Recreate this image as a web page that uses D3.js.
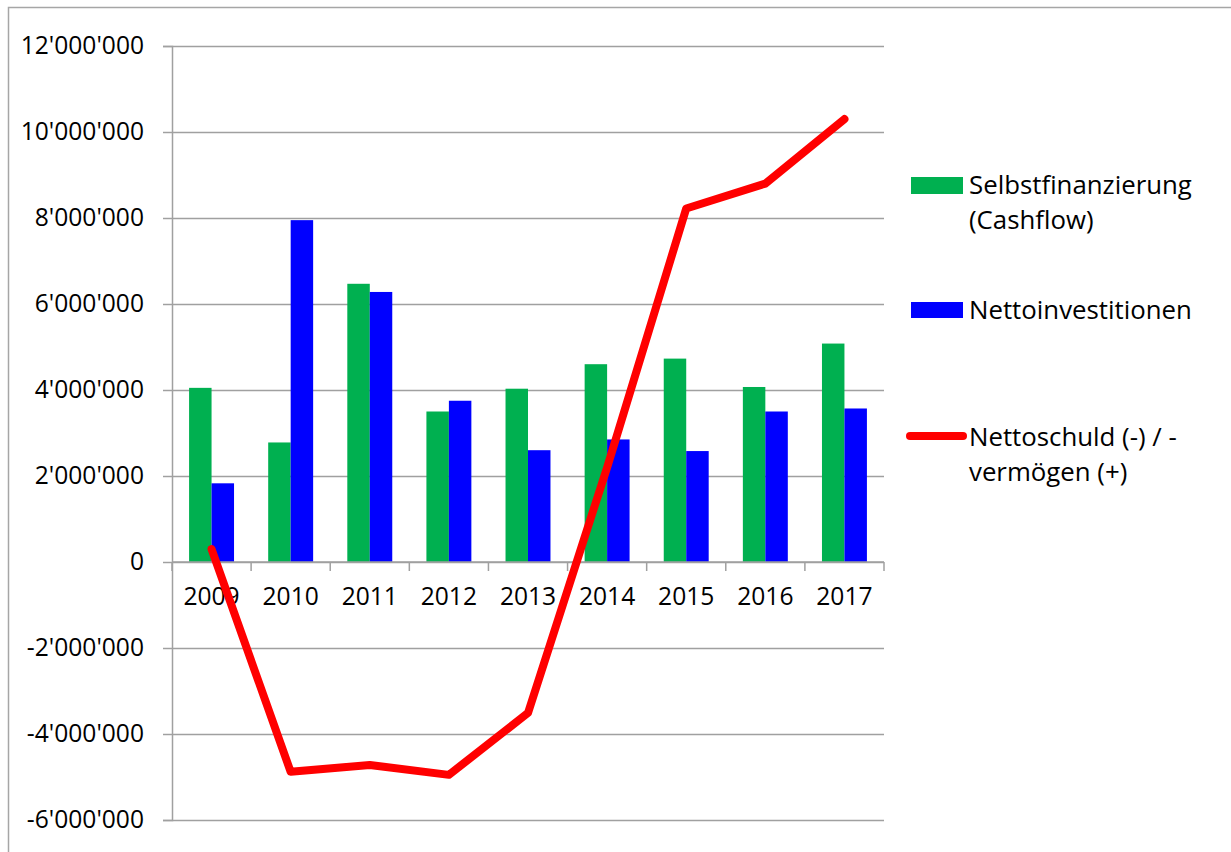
<!DOCTYPE html>
<html>
<head>
<meta charset="utf-8">
<script src="https://cdn.jsdelivr.net/npm/d3@7"></script>
<style>
  body { margin: 0; background: #fff; }
  svg { display: block; font-family: "Open Sans", sans-serif; }
</style>
</head>
<body>
<div id="chart"></div>
<script>
const years = ['2009', '2010', '2011', '2012', '2013', '2014', '2015', '2016', '2017'];
const cashflow = [4050000, 2780000, 6470000, 3500000, 4030000, 4600000, 4730000, 4070000, 5080000];
const investitionen = [1830000, 7950000, 6280000, 3750000, 2600000, 2850000, 2580000, 3500000, 3570000];
const nettoschuld = [300000, -4880000, -4720000, -4950000, -3510000, 2200000, 8220000, 8800000, 10300000];
const yTicks = [-6000000, -4000000, -2000000, 0, 2000000, 4000000, 6000000, 8000000, 10000000, 12000000];

const width = 1231, height = 852;
const margin = { top: 46, right: 347, bottom: 32, left: 172 };

const svg = d3.select('#chart').append('svg')
    .attr('width', width)
    .attr('height', height);

// outer chart frame (right / bottom edges run off the picture)
svg.append('rect')
    .attr('x', 8.5).attr('y', 7.5)
    .attr('width', width + 10).attr('height', height + 10)
    .attr('fill', 'none').attr('stroke', '#a6a6a6').attr('stroke-width', 1.5);

const y = d3.scaleLinear()
    .domain([-6000000, 12000000])
    .range([height - margin.bottom, margin.top]);

const x0 = d3.scaleBand()
    .domain(years)
    .range([margin.left, width - margin.right])
    .padding(0);

const x1 = d3.scaleBand()
    .domain(['cash', 'inv'])
    .range([0, x0.bandwidth()])
    .paddingInner(0)
    .paddingOuter(0.76);

const locale = d3.formatLocale({ decimal: '.', thousands: "'", grouping: [3], currency: ['', ''], minus: '-' });
const fmt = locale.format(',');

// gridlines + y axis
svg.append('g')
    .attr('transform', `translate(${margin.left},0)`)
    .call(d3.axisLeft(y).tickValues(yTicks).tickSize(9).tickPadding(19).tickFormat(fmt))
    .call(g => g.select('.domain').attr('stroke', '#a0a0a0').attr('stroke-width', 1.5))
    .call(g => g.selectAll('.tick line').attr('stroke', '#a0a0a0').attr('stroke-width', 1.5))
    .call(g => g.selectAll('.tick text').attr('font-size', 24.6).attr('fill', '#000').attr('font-family', '"Open Sans", sans-serif'))
    .call(g => g.selectAll('.tick').append('line')
        .attr('x1', 0).attr('x2', width - margin.right - margin.left)
        .attr('stroke', '#a0a0a0').attr('stroke-width', 1.5));

// bars
const groups = svg.append('g').selectAll('g')
    .data(years)
    .join('g')
    .attr('transform', d => `translate(${x0(d)},0)`);

groups.append('rect')
    .attr('x', x1('cash'))
    .attr('width', x1.bandwidth())
    .attr('y', (d, i) => y(cashflow[i]))
    .attr('height', (d, i) => y(0) - y(cashflow[i]))
    .attr('fill', '#00b050');

groups.append('rect')
    .attr('x', x1('inv'))
    .attr('width', x1.bandwidth())
    .attr('y', (d, i) => y(investitionen[i]))
    .attr('height', (d, i) => y(0) - y(investitionen[i]))
    .attr('fill', '#0000ff');

// category axis at zero
const xAxis = svg.append('g')
    .attr('transform', `translate(0,${y(0)})`);
xAxis.append('line')
    .attr('x1', margin.left).attr('x2', width - margin.right)
    .attr('stroke', '#a0a0a0').attr('stroke-width', 1.5);
xAxis.selectAll('line.tk')
    .data(years.concat(['end']))
    .join('line')
    .attr('class', 'tk')
    .attr('x1', (d, i) => margin.left + i * x0.step())
    .attr('x2', (d, i) => margin.left + i * x0.step())
    .attr('y1', 0).attr('y2', 9)
    .attr('stroke', '#a0a0a0').attr('stroke-width', 1.5);
xAxis.selectAll('text')
    .data(years)
    .join('text')
    .attr('x', d => x0(d) + x0.bandwidth() / 2)
    .attr('y', 43)
    .attr('text-anchor', 'middle')
    .attr('font-size', 24.6)
    .text(d => d);

// line series
const line = d3.line()
    .x((d, i) => x0(years[i]) + x0.bandwidth() / 2)
    .y(d => y(d));

svg.append('path')
    .datum(nettoschuld)
    .attr('d', line)
    .attr('fill', 'none')
    .attr('stroke', '#ff0000')
    .attr('stroke-width', 8)
    .attr('stroke-linejoin', 'round')
    .attr('stroke-linecap', 'round');

// legend
const legend = svg.append('g').attr('font-size', 25.8);
const lx = 911, tx = 969;

legend.append('rect').attr('x', lx).attr('y', 177).attr('width', 52).attr('height', 17).attr('fill', '#00b050');
legend.append('text').attr('x', tx).attr('y', 194).text('Selbstfinanzierung');
legend.append('text').attr('x', tx).attr('y', 229).text('(Cashflow)');

legend.append('rect').attr('x', lx).attr('y', 302).attr('width', 52).attr('height', 16).attr('fill', '#0000ff');
legend.append('text').attr('x', tx).attr('y', 319).text('Nettoinvestitionen');

legend.append('line').attr('x1', lx - 1).attr('x2', 963).attr('y1', 436).attr('y2', 436)
    .attr('stroke', '#ff0000').attr('stroke-width', 8).attr('stroke-linecap', 'round');
legend.append('text').attr('x', tx).attr('y', 446).text('Nettoschuld (-) / -');
legend.append('text').attr('x', tx).attr('y', 481).text('vermögen (+)');
</script>
</body>
</html>
